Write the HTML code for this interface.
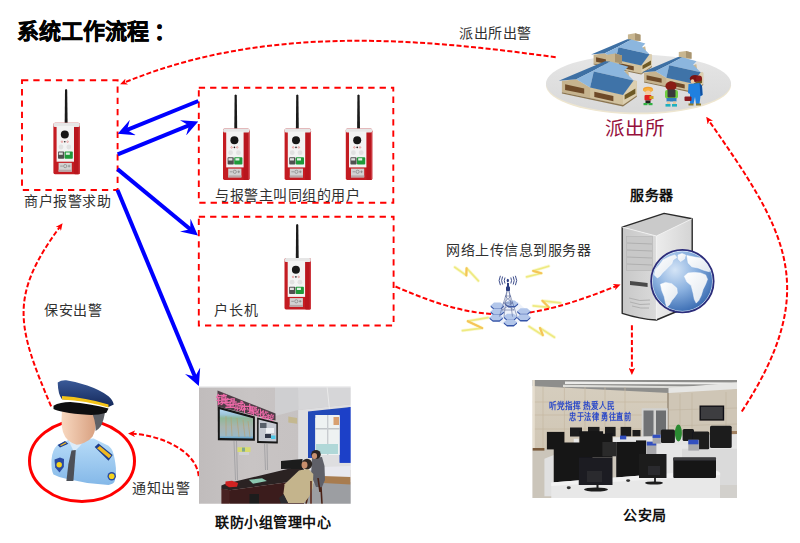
<!DOCTYPE html>
<html lang="zh-CN"><head><meta charset="utf-8">
<style>
html,body{margin:0;padding:0;background:#fff;width:800px;height:543px;overflow:hidden;}
body{position:relative;font-family:"Liberation Sans",sans-serif;}
.t{position:absolute;white-space:nowrap;line-height:1;color:#303030;font-size:14px;letter-spacing:0.5px;}
.b{font-weight:bold;color:#111;font-family:"Liberation Serif",serif;}
svg{position:absolute;left:0;top:0;}
</style></head><body>
<svg width="800" height="543" viewBox="0 0 800 543">
<defs>
 <g id="dev">
  <path d="M11.3,35 L11.6,1.6 Q12.7,-0.4 13.8,1.6 L14.2,35 Z" fill="#1a1a1a"/>
  <rect x="0" y="34.5" width="26.4" height="51.4" rx="1.6" fill="#c41c22"/>
  <rect x="20.6" y="36" width="5.8" height="49.9" rx="1.2" fill="#b8161e"/>
  <rect x="25.3" y="37" width="1" height="48.6" fill="#d04048"/>
<rect x="0.1" y="34.4" width="26.2" height="4.2" rx="1.5" fill="#e6e6e6"/>
  <rect x="3.2" y="37.6" width="17.4" height="35.8" fill="#f3f3f3"/>
  <circle cx="11.4" cy="46.2" r="4" fill="#161616"/>
  <circle cx="8.6" cy="53.4" r="0.8" fill="none" stroke="#e06060" stroke-width="0.5"/>
  <circle cx="11.4" cy="53.4" r="0.8" fill="#222"/>
  <circle cx="14.2" cy="53.4" r="0.8" fill="none" stroke="#e06060" stroke-width="0.5"/>
  <circle cx="7.6" cy="58.7" r="2.4" fill="#e2e2e2"/>
  <circle cx="15.4" cy="58.7" r="2.4" fill="#e2e2e2"/>
  <rect x="4.6" y="63.3" width="6.2" height="7.2" rx="0.8" fill="#505050"/>
  <rect x="11.2" y="63.3" width="8.2" height="7.2" rx="0.8" fill="#1f9a3a"/>
  <rect x="5.4" y="64.2" width="4" height="2.3" fill="#e0e0e0"/>
  <rect x="12.4" y="64.2" width="4" height="2.3" fill="#e0f0e4"/>
  <rect x="5.2" y="74.6" width="13.2" height="8.8" fill="#d2d2d2"/>
  <rect x="5.2" y="81.4" width="13.2" height="2" fill="#b8a8a8"/>
  <circle cx="11.8" cy="77.8" r="1.6" fill="none" stroke="#777" stroke-width="0.6"/>
  <path d="M6.8,77.8h2.6M14.4,77.8h2.6M15.7,76.5v2.6" stroke="#777" stroke-width="0.6"/>
 </g>
 <g id="house">
  <polygon points="605.9,55 615,53.5 622,55.5 622,63.5 605.9,63.5" fill="#c8b690"/>
  <polygon points="615,53.5 622,55.5 622,63.5 615,62" fill="#a89470"/>
  <polygon points="561.9,81 576.3,79.2 590.1,87.4 623,94.9 633.6,80.5 636.8,81 636.8,95.4 623,105 561.9,92.2" fill="#c6b38e"/>
  <polygon points="590.1,87.4 623,94.9 623,105 590.1,97.6" fill="#d2c29e"/>
  <polygon points="623,94.9 633.6,80.5 636.8,81 636.8,95.4 623,105" fill="#dccfb0"/>
  <polygon points="561.9,92.2 623,105 636.8,95.4 636.8,96.8 623,106.4 561.9,93.6" fill="#8c7650"/>
  <polygon points="565.1,84.2 584.2,88.5 584.2,93.8 565.1,90.1" fill="#6e4a28"/>
  <polygon points="594.3,91.7 613.4,95.9 613.4,101.2 594.3,97" fill="#6e4a28"/>
  <polygon points="624.6,94.9 635.4,88.5 635.4,93.8 624.6,99.6" fill="#6e5a26"/>
  <polygon points="620.9,73.6 628,70 629,76 622,79" fill="#c8b690"/>
  <polygon points="558.7,80.7 605,61.2 610.3,61.4 592.7,71 576.3,79.2" fill="#3e70a4"/>
  <polygon points="576.3,79.2 592.7,71 610.3,61.4 628.3,66.7 624,71 633.6,80.5 593.8,71.5 590.1,87.4" fill="#8cb6de"/>
  <polygon points="593.8,71.5 633.6,80.5 623,94.9 590.1,87.4" fill="#3f73a8"/>
 </g>

 <g id="hx"><polygon points="-6.6,0 -3.3,-2.8 3.3,-2.8 6.6,0 3.3,2.8 -3.3,2.8" fill="#b2c6ea"/><polygon points="-6.6,0 -3.3,2.8 3.3,2.8 6.6,0 6.6,1.5 3.3,4.3 -3.3,4.3 -6.6,1.5" fill="#3454a8"/></g>

 <marker id="stealth" viewBox="0 0 16.5 16.6" refX="7" refY="8.3" markerWidth="16.5" markerHeight="16.6" markerUnits="userSpaceOnUse" orient="auto">
  <path d="M0,0 L16.5,8.3 L0,16.6 L6.5,8.3 Z" fill="#0000ff"/>
 </marker>
 <marker id="rst" viewBox="0 0 7.2 6.6" refX="3.2" refY="3.3" markerWidth="7.2" markerHeight="6.6" markerUnits="userSpaceOnUse" orient="auto">
  <path d="M0,0 L7.2,3.3 L0,6.6 L2,3.3 Z" fill="#ff0000"/>
 </marker>
 <filter id="blurP" x="-5%" y="-5%" width="110%" height="110%"><feGaussianBlur stdDeviation="0.7"/></filter>
 <clipPath id="cp1"><rect x="199" y="386.3" width="151.7" height="117.5"/></clipPath>
 <clipPath id="cp2"><rect x="532.4" y="380" width="204.6" height="118"/></clipPath>
 <linearGradient id="p1wall" x1="0" x2="1" y1="0" y2="0"><stop offset="0" stop-color="#c0bcbc"/><stop offset="0.5" stop-color="#c8c4c4"/><stop offset="1" stop-color="#c6c2c2"/></linearGradient>
 <linearGradient id="tv1" x1="0" x2="0" y1="0" y2="1"><stop offset="0" stop-color="#b4d8f4"/><stop offset="0.18" stop-color="#9cc4d8"/><stop offset="0.3" stop-color="#90b898"/><stop offset="0.6" stop-color="#a8b4b0"/><stop offset="0.9" stop-color="#9cb8c4"/><stop offset="1" stop-color="#58a0d0"/></linearGradient>
 <linearGradient id="p2wall" x1="0" x2="0" y1="0" y2="1"><stop offset="0" stop-color="#d6cebf"/><stop offset="1" stop-color="#d0c6b4"/></linearGradient>
 <linearGradient id="gEll" x1="0" x2="0" y1="0" y2="1"><stop offset="0" stop-color="#e6e6e6"/><stop offset="1" stop-color="#d8d8d8"/></linearGradient>
 <linearGradient id="gSide" x1="0" x2="1" y1="0" y2="0"><stop offset="0" stop-color="#ececec"/><stop offset="1" stop-color="#d4d4d4"/></linearGradient>
 <linearGradient id="gFront" x1="0" x2="1" y1="0" y2="0"><stop offset="0" stop-color="#c8c8c8"/><stop offset="1" stop-color="#dadada"/></linearGradient>
 <radialGradient id="gGlobe" cx="0.38" cy="0.32" r="0.75"><stop offset="0" stop-color="#d4e4f6"/><stop offset="0.45" stop-color="#8cb2e0"/><stop offset="1" stop-color="#2e62ac"/></radialGradient>
 <linearGradient id="gLand" x1="0" x2="1" y1="0" y2="1"><stop offset="0" stop-color="#ffffff"/><stop offset="1" stop-color="#dfe6ee"/></linearGradient>
 <linearGradient id="gShirt" x1="0" x2="0" y1="0" y2="1"><stop offset="0" stop-color="#b8dcf8"/><stop offset="1" stop-color="#84b8e8"/></linearGradient>
 <linearGradient id="gFace" x1="0" x2="1" y1="0" y2="0"><stop offset="0" stop-color="#f8d8c0"/><stop offset="1" stop-color="#d8a080"/></linearGradient>
 <linearGradient id="gCap" x1="0" x2="0" y1="0" y2="1"><stop offset="0" stop-color="#3a5a98"/><stop offset="1" stop-color="#14285a"/></linearGradient>
</defs>

<!-- dashed boxes -->
<g fill="none" stroke="#ff0000" stroke-width="1.9" stroke-dasharray="6.3 5">
 <rect x="22" y="80.3" width="95.6" height="109.7"/>
 <rect x="198.8" y="87.7" width="194.5" height="115"/>
 <rect x="198.8" y="216.7" width="194.8" height="108.8"/>
</g>

<ellipse cx="638.5" cy="85.2" rx="92.5" ry="29" fill="#eee6d0"/>
<ellipse cx="638.5" cy="83.6" rx="92.5" ry="29" fill="url(#gEll)"/>
<use href="#house" transform="translate(591.1,54.5) scale(0.78) translate(-558.7,-80.7)"/>
<use href="#house" transform="translate(641.5,72.4) scale(0.79) translate(-558.7,-80.7)"/>
<use href="#house"/>
<!-- people -->
<g>
 <!-- kid1 -->
 <ellipse cx="648" cy="89.5" rx="5" ry="2.8" fill="#f0a030"/>
 <path d="M643,90 Q648,86 653.5,90 L652,91 L644,91 Z" fill="#f8b040"/>
 <ellipse cx="648" cy="93" rx="3" ry="2.5" fill="#f4c8a0"/>
 <rect x="644.5" y="95" width="7" height="5.5" rx="1" fill="#e02020"/>
 <rect x="649.5" y="96" width="4" height="3" fill="#d0a020"/>
 <rect x="645.5" y="100.5" width="5" height="3" fill="#202020"/>
 <rect x="643.5" y="103" width="4" height="2.2" fill="#30b040"/><rect x="648.5" y="103" width="4" height="2.2" fill="#30b040"/>
 <!-- kid2 -->
 <ellipse cx="671" cy="86" rx="5.6" ry="4.6" fill="#8a1c14"/>
 <rect x="665" y="90" width="13" height="8.5" rx="2" fill="#70d040"/>
 <rect x="667.5" y="89.5" width="8" height="8" rx="1" fill="#3a3a3a"/>
 <rect x="666.5" y="98" width="10" height="3.5" fill="#3080c0"/>
 <rect x="667" y="101.5" width="3" height="3" fill="#e8c8a0"/><rect x="673" y="101.5" width="3" height="3" fill="#e8c8a0"/>
 <rect x="665.5" y="104" width="5" height="2.6" fill="#20b0c0"/><rect x="672" y="104" width="5" height="2.6" fill="#20b0c0"/>
 <!-- adult -->
 <ellipse cx="695" cy="78.5" rx="5.2" ry="3.6" fill="#7a1414"/>
 <ellipse cx="699" cy="78.5" rx="3" ry="3" fill="#8a1a1a"/>
 <ellipse cx="692.5" cy="81.5" rx="1.8" ry="2.2" fill="#f0c8a0"/>
 <path d="M688.5,84 L699.5,83 L702,86 L702.5,95 L700.5,96 L699.5,104 L696,104 L695,97 L693.5,104 L690,104 L690,94 L688,93 Z" fill="#2080e0"/>
 <path d="M699.5,83 L702,86 L702.5,95 L700.5,96 Z" fill="#1050a0"/>
 <rect x="684.5" y="96.5" width="7" height="4.6" rx="1" fill="#8a1a20"/>
 <rect x="688.5" y="103.5" width="5" height="2" fill="#8a7a30"/><rect x="696" y="103.5" width="5" height="2" fill="#8a7a30"/>
</g>

<g>
 <polygon points="656.4,236 692.2,218.7 692.2,305 656.4,320" fill="url(#gSide)"/>
 <polygon points="622.2,227.1 664.1,213.4 692.2,218.7 656.4,236" fill="#cacaca"/>
 <path d="M622.2,227.1 L656.4,236 L656.4,320 Q640,319 622.2,313.3 Z" fill="url(#gFront)"/>
 <path d="M622.2,227.1 L664.1,213.4 L692.2,218.7 L692.2,305 L656.4,320 Q640,319 622.2,313.3 Z" fill="none" stroke="#2a2a2a" stroke-width="1.4" stroke-linejoin="round"/>
 <path d="M622.2,227.1 L656.4,236 L692.2,218.7 M656.4,236 L656.4,320" fill="none" stroke="#f4f4f4" stroke-width="0.8"/>
 <rect x="626.6" y="236.5" width="26" height="34" fill="#c8c8c8" stroke="#b4b4b4" stroke-width="0.6"/>
 <g stroke="#a8a8a8" stroke-width="0.8"><line x1="627" y1="243" x2="652" y2="244"/><line x1="627" y1="250" x2="652" y2="251"/><line x1="627" y1="257" x2="652" y2="258"/><line x1="627" y1="264" x2="652" y2="265"/></g>
 <path d="M630,281 L647.6,283 L647.6,287 Q640,286 630,285 Z" fill="#4a4a4a"/>
 <g fill="none" stroke="#b0b0b0" stroke-width="1"><path d="M629,298 Q640,302 650,300"/><path d="M630,302 Q640,306 650,304"/><path d="M632,306 Q641,309 649,308"/></g>
 <!-- globe -->
 <circle cx="682.4" cy="281.2" r="31.2" fill="url(#gGlobe)"/>
 <g fill="url(#gLand)" stroke="#ffffff" stroke-width="0.5" stroke-linejoin="round">
  <path d="M654.3,274.9 L655.5,269.3 L659.9,264.3 L663.0,259.9 L669.3,256.8 L674.9,254.9 L676.8,257.4 L673.0,259.9 L671.8,263.7 L668.7,266.8 L665.5,269.9 L662.4,273.0 L659.9,276.2 L657.4,278.0 Z"/>
  <path d="M678.0,255.0 L682.0,253.6 L685.6,255.0 L684.5,259.0 L680.5,261.5 L678.2,259.0 Z"/>
  <path d="M686.8,255.5 L693.1,256.8 L700.6,258.0 L706.9,261.8 L710.6,266.8 L709.4,271.8 L704.4,270.5 L698.1,268.0 L691.8,266.8 L688.1,263.0 Z"/>
  <path d="M684.3,276.2 L688.1,273.0 L694.3,272.4 L700.6,273.0 L705.6,274.9 L707.5,279.3 L705.6,284.3 L703.1,289.3 L701.2,295.6 L698.7,300.6 L696.2,303.1 L694.3,299.3 L693.1,293.1 L691.2,285.6 L686.8,281.8 Z"/>
  <path d="M660.5,284.3 L665.5,282.4 L671.8,283.7 L676.8,288.1 L677.4,293.1 L674.9,296.8 L671.8,300.6 L669.3,305.0 L666.8,306.9 L665.5,303.1 L664.3,296.8 L661.8,290.6 Z"/>
 </g>
 <circle cx="682.4" cy="281.2" r="30.2" fill="none" stroke="#e8f0fa" stroke-width="0.9" opacity="0.9"/>
 <circle cx="682.4" cy="281.2" r="31.3" fill="none" stroke="#2c2c7a" stroke-width="1.7"/>
</g>


<g fill="none" stroke-linejoin="round" stroke-linecap="round">
 <polyline points="454.8,267.2 466.3,275.4 466.6,268.2 478.4,280.8" stroke="#faf8cc" stroke-width="3.4" opacity="0.8"/>
 <polyline points="548.7,266.2 533.2,270.9 541.4,273.2 526.7,276.9" stroke="#faf8cc" stroke-width="3.4" opacity="0.8"/>
 <polyline points="488.0,317.6 467.8,321.2 482.2,328.1 462.5,330.6" stroke="#faf8cc" stroke-width="3.4" opacity="0.8"/>
 <polyline points="533.3,305.8 549.0,307.4 542.4,300.8 560.6,302.9" stroke="#faf8cc" stroke-width="3.4" opacity="0.8"/>
 <polyline points="529.1,326.5 542.8,335.2 540.0,328.0 554.4,337.3" stroke="#faf8cc" stroke-width="3.4" opacity="0.8"/>
 <polyline points="454.8,267.2 466.3,275.4 466.6,268.2 478.4,280.8" stroke="#eeea80" stroke-width="1.7"/>
 <polyline points="548.7,266.2 533.2,270.9 541.4,273.2 526.7,276.9" stroke="#eeea80" stroke-width="1.7"/>
 <polyline points="488.0,317.6 467.8,321.2 482.2,328.1 462.5,330.6" stroke="#eeea80" stroke-width="1.7"/>
 <polyline points="533.3,305.8 549.0,307.4 542.4,300.8 560.6,302.9" stroke="#eeea80" stroke-width="1.7"/>
 <polyline points="529.1,326.5 542.8,335.2 540.0,328.0 554.4,337.3" stroke="#eeea80" stroke-width="1.7"/>
 <polyline points="466.3,275.4 466.6,268.2" stroke="#f6c458" stroke-width="2.1"/>
 <polyline points="533.2,270.9 541.4,273.2" stroke="#f6c458" stroke-width="2.1"/>
 <polyline points="467.8,321.2 482.2,328.1" stroke="#f6c458" stroke-width="2.1"/>
 <polyline points="549.0,307.4 542.4,300.8" stroke="#f6c458" stroke-width="2.1"/>
 <polyline points="542.8,335.2 540.0,328.0" stroke="#f6c458" stroke-width="2.1"/>
</g>
<!-- red dashed curves -->
<g fill="none" stroke="#ff0000" stroke-width="2" stroke-dasharray="5 2.3">
 <path d="M555.7,57.3 C411.2,37.0 261.7,25.7 123.8,82.8" marker-end="url(#rst)"/>
 <path d="M395.5,286.5 C485.9,326.2 528.1,321.3 616.8,285.9" marker-end="url(#rst)"/>
 <path d="M741.8,411.5 C822.8,287.0 785.1,229.9 708.5,120.1" marker-end="url(#rst)"/>
 <path d="M198.7,476.2 C196.1,448.9 156.6,434.5 131.9,433.7" marker-end="url(#rst)"/>
 <path d="M51.1,406.3 C17.0,326.0 8.8,296.2 60.2,226.4" marker-end="url(#rst)"/>
 <path d="M631.9,325.3 L631.9,371" marker-end="url(#rst)"/>
</g>
<g>
 <polygon points="492,306 505,302 518,302 523,307 529,311 529,318 517,323 504,324.5 491,319 491,313" fill="#eef2fa"/>
 <use href="#hx" transform="translate(511.5,303.3)"/>
 <use href="#hx" transform="translate(497.3,305.4)"/>
 <use href="#hx" transform="translate(497.3,311.4)"/>
 <use href="#hx" transform="translate(523.8,311.0)"/>
 <use href="#hx" transform="translate(496.2,317.4)"/>
 <use href="#hx" transform="translate(510.4,316.6)"/>
 <use href="#hx" transform="translate(523.8,317.1)"/>
 <use href="#hx" transform="translate(510.4,322.2)"/>
 <!-- tower -->
 <g stroke="#5a6a98" stroke-width="0.6" fill="none">
  <path d="M507.4,290 L499.4,316.6 M508.6,290 L517,316.6 M507,291 L504,316.6 M509,291 L512.5,316.6"/>
  <path d="M505,296 L511,296 M503.5,303 L512.5,303 M502,310 L514,310 M505,296 L512.5,303 L502,310 M511,296 L503.5,303 L514,310"/>
 </g>
 <rect x="506" y="286.4" width="4" height="4.6" rx="0.8" fill="#2a3c80"/><rect x="507" y="283" width="2" height="4" fill="#2a3c80"/>
 <ellipse cx="507.8" cy="280.6" rx="1.1" ry="1.8" fill="#2a3c80"/>
 <g fill="none" stroke="#2a3c80" stroke-width="0.9">
  <path d="M505,277.5 Q503.5,280.5 505,283.5"/><path d="M502.6,276.5 Q500.6,280.5 502.6,284.5"/><path d="M500.4,275.8 Q497.8,280.5 500.4,285.2"/>
  <path d="M510.8,277.5 Q512.3,280.5 510.8,283.5"/><path d="M513.2,276.5 Q515.2,280.5 513.2,284.5"/><path d="M515.4,275.8 Q518,280.5 515.4,285.2"/>
 </g>
</g>


<!-- blue arrows -->
<g fill="none" stroke="#0000ff" stroke-width="4">
 <path d="M198.3,101.0 L126.5,130.2" marker-end="url(#stealth)"/>
 <path d="M117.7,154.4 L189.5,125.2" marker-end="url(#stealth)"/>
 <path d="M117.5,169.1 L190.6,229.5" marker-end="url(#stealth)"/>
 <path d="M117.5,189.9 L195.2,377.2" marker-end="url(#stealth)"/>
</g>

<!-- devices -->
<use href="#dev" x="53.4" y="88.3"/>
<use href="#dev" x="223" y="94"/>
<use href="#dev" x="284.6" y="94"/>
<use href="#dev" x="345.8" y="94"/>
<use href="#dev" x="284.5" y="223.5"/>

<!-- police ellipse -->
<ellipse cx="82" cy="461" rx="52.5" ry="40.5" fill="none" stroke="#ff0000" stroke-width="3"/>
<g>
 <!-- body -->
 <path d="M57.7,444.8 Q52,450 51.5,460 Q51,470 53.5,474.5 Q60,478 66.2,478.7 L87.3,483 L108.5,485 Q114,484 114.8,480.8 Q116.5,474 115.9,468.1 Q115,458 112.7,451.2 Q110,446 106.4,444.8 L93.7,438.5 L68.3,440 Z" fill="url(#gShirt)"/>
 <path d="M68.5,440.5 L74,452 L80,446 L84,440.5 Z" fill="#dcecfa"/>
 <path d="M71.5,450.6 L75.8,450 L73.4,481 L66.4,481 L68.4,464 Z" fill="#4c5058"/>
 <!-- epaulets -->
 <path d="M94.7,447 L98.5,443.6 L112.7,455 L108.5,460.7 Z" fill="#1c3c8c"/>
 <path d="M97,448.2 L99.8,446 L111.3,455.6 L109,458.2 Z" fill="#f0b820"/>
 <path d="M57.7,445 L65,441 L68.3,443.8 L60,447.6 Z" fill="#1c3c8c"/>
 <path d="M60,445.2 L65.5,442.2 L66.5,443.3 L61,446 Z" fill="#f0b820"/>
 <!-- badges -->
 <path d="M54.5,459.5 L60,457.5 L64,459 L63.8,467 L59.5,472.4 L55.2,467.5 Z" fill="#2a4aa0"/>
 <circle cx="59.2" cy="464.8" r="2.7" fill="#f6d41c"/>
 <circle cx="111.7" cy="476.2" r="4.2" fill="#2a4aa0"/>
 <circle cx="111.7" cy="476.2" r="2.8" fill="#f6d41c"/>
 <!-- face -->
 <path d="M61.9,411 L94.7,411 L95.8,425.8 Q95,432 92.6,436.4 Q89,441 84.2,442.7 Q80,444.8 76.7,444.8 Q72,443.5 68.3,440.6 Q64.5,437 63,432.1 Q61.5,427 61.5,421.6 Z" fill="url(#gFace)"/>
 <path d="M90.5,410 L105.3,410 Q104,420 101,426 Q98,430 95.6,431 Q96,420 90.5,410 Z" fill="#5e6066"/>
 <!-- cap -->
 <path d="M57.7,382.4 Q61,380 66.2,380.3 Q78,382 87.3,385.6 Q100,390 108.5,396.2 Q113,400 113.8,404.6 L108.5,407 Q86,399.5 61.9,399.3 Q58,394 57.7,382.4 Z" fill="url(#gCap)"/>
 <path d="M62,396 Q86,397.5 108.5,404.5 L108.5,407.6 Q86,400.5 62,399.4 Z" fill="#f4c418"/>
 <path d="M53.5,405.7 Q60,402 70.4,402 Q90,403.5 108.5,408.6 L106.4,412.7 Q97,415.5 87.3,414.8 Q74,414 64,412 Q56,410.5 53.5,408.9 Z" fill="#0e0e10"/>
</g>

<g clip-path="url(#cp1)"><g filter="url(#blurP)">
 <rect x="199" y="386" width="152" height="118" fill="#c4c0c0"/>
 <rect x="199" y="386" width="100" height="118" fill="url(#p1wall)"/>
 <polygon points="298,386 351,386 351,404.3 298.2,409.9" fill="#d6d6d8"/>
 <polygon points="275,386 298,386 298.2,409.9 275,416" fill="#cfcfd1"/>
 <polygon points="298.2,409.9 351,404.3 351,470 298.2,470" fill="#dedee0"/>
 <rect x="199" y="386" width="152" height="1.6" fill="#e8e8ea"/>
 <!-- LED sign -->
 <polygon points="217.5,390.4 275.5,413.6 275.5,420.6 217.5,406.4" fill="#4e3e46"/>
 <text x="221.6" y="404.0" font-size="11.4" font-weight="bold" fill="#ec6aa8" text-anchor="middle" font-family="Liberation Sans,sans-serif">镇</text>
 <text x="230.4" y="406.8" font-size="10.6" font-weight="bold" fill="#ec6aa8" text-anchor="middle" font-family="Liberation Sans,sans-serif">望</text>
 <text x="238.7" y="409.6" font-size="10.0" font-weight="bold" fill="#ec6aa8" text-anchor="middle" font-family="Liberation Sans,sans-serif">城</text>
 <text x="246.1" y="412.1" font-size="9.4" font-weight="bold" fill="#ec6aa8" text-anchor="middle" font-family="Liberation Sans,sans-serif">村</text>
 <text x="253.1" y="414.0" font-size="8.8" font-weight="bold" fill="#ec6aa8" text-anchor="middle" font-family="Liberation Sans,sans-serif">聚</text>
 <text x="259.7" y="415.9" font-size="8.2" font-weight="bold" fill="#ec6aa8" text-anchor="middle" font-family="Liberation Sans,sans-serif">化</text>
 <text x="265.4" y="417.5" font-size="7.6" font-weight="bold" fill="#ec6aa8" text-anchor="middle" font-family="Liberation Sans,sans-serif">监</text>
 <text x="270.6" y="419.5" font-size="7.0" font-weight="bold" fill="#ec6aa8" text-anchor="middle" font-family="Liberation Sans,sans-serif">控</text>
 <!-- TV1 -->
 <polygon points="217.7,406.5 254.9,416.5 254.9,440.8 217.9,440.2" fill="#141414"/>
 <polygon points="219.8,409.3 253,418.3 253,438.6 219.8,438.1" fill="url(#tv1)"/>
 <g stroke="#b8a070" stroke-width="0.8" opacity="0.8">
  <line x1="226" y1="416" x2="226" y2="436"/><line x1="231" y1="417" x2="232" y2="436"/><line x1="237" y1="418" x2="239" y2="437"/><line x1="243" y1="420" x2="245" y2="437"/><line x1="248" y1="421" x2="250" y2="437"/>
 </g>
 <!-- TV2 -->
 <polygon points="257.1,417.6 277.8,422.6 277.8,443.6 257.1,443" fill="#151515"/>
 <polygon points="258.6,419.6 276.4,424 276.4,441.6 258.6,441" fill="#c6cad2"/>
 <rect x="260" y="423" width="6.5" height="5" fill="#58606a"/>
 <rect x="266" y="428" width="8" height="5" fill="#eef0f4"/>
 <rect x="265" y="434" width="6" height="4" fill="#303848"/>
 <rect x="271" y="435.5" width="4.5" height="3.5" fill="#50c8e8"/>
 <!-- cables under TVs -->
 <path d="M234,441 L235.5,480 M236.5,441 L237.5,480 M264.5,443 L265.5,470 M267,443 L267.5,470" stroke="#9a9a9e" stroke-width="0.8"/>
 <rect x="237.5" y="447.2" width="13" height="4.8" fill="#d8dc70"/>
 <rect x="242" y="447.6" width="3" height="4" fill="#80a890"/>
 <rect x="239" y="452" width="10" height="3" fill="#d0d0d4"/>
 <!-- AC -->
 <polygon points="288.3,416.5 297.1,418 297.1,423.7 288.3,422.6" fill="#c4b890"/>
 <!-- lamp -->
 <path d="M327,386 L330,414" stroke="#eaeaea" stroke-width="1"/>
 <!-- curtains / window -->
 <polygon points="308,411.5 351,407 351,462.8 339.7,462.8 339.7,416 315.3,418 315.3,458 308,458" fill="#2448b8"/>
 <polygon points="339.7,410 351,407 351,462.8 339.7,462.8" fill="#1c40c8"/>
 <rect x="315.3" y="415" width="24.4" height="40" fill="#eef2f2"/>
 <rect x="315.3" y="428" width="24.4" height="1.5" fill="#c0c4c8"/>
 <rect x="327" y="415" width="1.4" height="40" fill="#c8ccd0"/>
 <rect x="333.5" y="417" width="5.5" height="8" fill="#d8a070"/>
 <rect x="316" y="444" width="22" height="10" fill="#b0d8d8"/>
 <!-- floor -->
 <polygon points="300,484 351,482 351,504 300,504" fill="#9c9ea2"/>
 <!-- bed -->
 <polygon points="324,467 350.5,466 350.5,478.5 324,478" fill="#e8e8ee"/>
 <polygon points="323,476 350.5,477 350.5,484.5 323,483" fill="#a87c50"/>
 <!-- desk -->
 <polygon points="221.4,485.5 225.5,483.7 300,466 304,469 304,480 229.7,490.3 221.4,488.8" fill="#2a2224"/>
 <polygon points="221.4,488.8 229.7,490.3 304,480 304,504 229.7,504" fill="#3b1c1a"/>
 <polygon points="221.4,488.8 229.7,490.3 229.7,504 221.4,504" fill="#4a2220"/>
 <rect x="249.5" y="494" width="9.5" height="10" fill="#1a1a1c"/>
 <polygon points="281,461 302.5,459 302.5,468.7 281,469" fill="#1c1c1e"/>
 <!-- phone, paper -->
 <polygon points="225.5,481.5 232,480.7 238.1,483 237,486.8 229,487.3 225.5,485" fill="#d02020"/>
 <polygon points="248.9,479.8 262,478.3 266.9,481 253,483.7" fill="#8cc8b0"/>
 <!-- person 2 (gray) -->
 <polygon points="312,458 322,457 324.5,466 325,480 322,487 316,487 311,475" fill="#5e6068"/>
 <ellipse cx="316" cy="454.5" rx="4.8" ry="4.6" fill="#2a2420"/>
 <ellipse cx="314.5" cy="456" rx="2.6" ry="3" fill="#c89070"/>
 <!-- chair -->
 <path d="M321,487 L322,504 M312,478 L306,504 M318,478 L320,492" stroke="#4a2418" stroke-width="1.6"/>
 <!-- person 1 (beige) -->
 <polygon points="284.6,484.3 299,470.5 308,468.7 313.3,474 312.8,488 309,497 304,503 288,503 283.4,494" fill="#c4b48c"/>
 <polygon points="283.4,494 288,503 281,504 279,498" fill="#2a2a2e"/>
 <ellipse cx="307" cy="464" rx="5.2" ry="5.3" fill="#2e2622"/>
 <ellipse cx="304.5" cy="465" rx="3" ry="3.4" fill="#c88e6c"/>
 <path d="M311,481 L311,504" stroke="#5a2a1c" stroke-width="1.6"/>
</g></g>

<g clip-path="url(#cp2)"><g filter="url(#blurP)">
 <rect x="532" y="379" width="206" height="120" fill="#d3cab9"/>
 <rect x="532" y="379" width="137" height="72" fill="url(#p2wall)"/>
 <!-- ceiling -->
 <polygon points="532,379 738,379 738,391 669,393 532,386" fill="#8e8e8c"/>
 <polygon points="565,381.5 738,382.5 738,384.5 565,384" fill="#ececea"/>
 <polygon points="563,384.8 700,386.5 700,388.2 563,387" fill="#dededa"/>
 <polygon points="668.5,388 737.3,382.5 737.3,389.5 668.5,395" fill="#e6e6e4"/>
 <!-- tile lines -->
 <g stroke="#c6b8a2" stroke-width="0.7">
  <line x1="543" y1="387" x2="543" y2="449"/><line x1="564.4" y1="387" x2="564.4" y2="449"/><line x1="585" y1="387" x2="585" y2="449"/><line x1="605" y1="387" x2="605" y2="449"/><line x1="625" y1="387" x2="625" y2="449"/>
  <line x1="532" y1="402" x2="669" y2="402"/><line x1="532" y1="415" x2="669" y2="415"/><line x1="532" y1="429" x2="669" y2="429"/>
 </g>
 <rect x="532.4" y="380" width="2.4" height="118" fill="#e6decf"/>
 <!-- right glass wall -->
 <polygon points="669,393 737,389 737,449 669,449" fill="#cfc6b6"/>
 <g stroke="#c0b4a0" stroke-width="0.6"><line x1="680" y1="394" x2="680" y2="449"/><line x1="692" y1="393" x2="692" y2="449"/><line x1="726" y1="392" x2="726" y2="449"/><line x1="669" y1="410" x2="737" y2="408"/><line x1="669" y1="426" x2="737" y2="424"/></g>
 <rect x="667" y="393" width="2" height="56" fill="#a89c8a"/>
 <rect x="731" y="431" width="6" height="17" fill="#a08060"/>
 <!-- doors -->
 <rect x="641.7" y="408.3" width="26" height="30" fill="#d2d2d0"/>
 <rect x="643.5" y="410.5" width="10" height="26" fill="#707274"/>
 <rect x="656" y="410.5" width="10" height="26" fill="#6c6e70"/>
 <!-- TV -->
 <rect x="699.5" y="405.5" width="24.7" height="15.1" fill="#101012"/>
 <rect x="700.8" y="406.8" width="22" height="12.5" fill="#3c3c40"/>
 <!-- wall text -->
 <text x="549.3" y="409" font-size="8.6" font-weight="bold" fill="#2a48c8" font-family="Liberation Sans,sans-serif" textLength="66" lengthAdjust="spacingAndGlyphs">听党指挥 热爱人民</text>
 <text x="569.2" y="420.2" font-size="8.6" font-weight="bold" fill="#2a48c8" font-family="Liberation Sans,sans-serif" textLength="62" lengthAdjust="spacingAndGlyphs">忠于法律 勇往直前</text>
 <!-- floor -->
 <rect x="532" y="449" width="206" height="50" fill="#cbc5ba"/>
 <rect x="532.4" y="448" width="12" height="2.6" fill="#7a5a3a"/>
 <!-- white desks (back rows) -->
 <polygon points="613,437.5 738,434 738,449 613,444" fill="#e4e4e4"/>
 <polygon points="640,444 738,446 738,486 640,486" fill="#e6e6e6"/>
 <polygon points="682,448.7 737,448.7 737,486 682,486" fill="#dadada"/>
 <rect x="573.75" y="438.75" width="5" height="4.4" fill="#e8e8e8"/>
 <!-- back row black -->
 <g fill="#1a1a1c">
  <rect x="570" y="427.5" width="12" height="9"/>
  <rect x="588" y="426.9" width="11.5" height="7"/>
  <rect x="605" y="426.9" width="10.6" height="9.4"/>
  <rect x="620.6" y="426.9" width="10.6" height="9.4"/>
  <rect x="632.5" y="430" width="8" height="6.3"/>
  <rect x="660.9" y="429.6" width="14" height="13.4" rx="1.5"/>
  <rect x="682.6" y="428.9" width="11.4" height="12" rx="1.5"/>
  <rect x="692.8" y="431.5" width="16.5" height="17.8" rx="1.5"/>
  <rect x="710" y="425.7" width="21.7" height="22.3" rx="1.5"/>
 </g>
 <g fill="#161618">
  <rect x="546.9" y="431.9" width="17.5" height="17.5"/>
  <rect x="579.4" y="431.25" width="23.7" height="12.5"/>
  <rect x="591.9" y="433.75" width="20.6" height="23.75"/>
  <rect x="602.5" y="441.9" width="13.75" height="14.4" fill="#2a2a2c"/>
  <rect x="616.25" y="441.9" width="23.75" height="36"/>
  <rect x="636" y="440.4" width="10.2" height="36"/>
 </g>
 <rect x="613.1" y="437.5" width="7" height="4.4" fill="#e8e8e8"/>
 <!-- phones -->
 <g><rect x="646.8" y="441.7" width="9.6" height="13.3" fill="#a8a8ac"/><rect x="646.8" y="441.7" width="9.4" height="3.8" fill="#3050c0"/>
 <rect x="652.6" y="434.7" width="8.3" height="8.9" fill="#a8a8ac"/><rect x="652.6" y="434.7" width="8" height="3.2" fill="#3050c0"/>
 <rect x="688.3" y="439.8" width="10.8" height="10.8" fill="#a8a8ac"/><rect x="688.3" y="439.8" width="10.2" height="4.5" fill="#3050c0"/>
 <rect x="620" y="435.6" width="6.25" height="3.8" fill="#3050c0"/></g>
 <!-- plant -->
 <ellipse cx="678.4" cy="433" rx="3.5" ry="8.5" fill="#2c8a30"/>
 <!-- left white desk -->
 <polygon points="544.4,458.75 553.75,455 553.75,496.3 544.4,496.3" fill="#e0e0e0"/>
 <!-- big front-left monitor -->
 <rect x="553.75" y="442.5" width="38.75" height="42" fill="#141416"/>
 <!-- front desk -->
 <path d="M551.25,482.5 L712,470 Q722,471 720,478 L720,498 L551.25,498 Z" fill="#e8e8e8"/>
 <path d="M551.25,482.5 L712,470 Q722,471 720,475 L551.25,486 Z" fill="#f2f2f2"/>
 <rect x="720" y="485" width="17" height="13" fill="#d2d0cc"/>
 <!-- front monitors -->
 <rect x="578.75" y="457.5" width="33.75" height="27.5" fill="#1e1e20"/>
 <rect x="587" y="471" width="15" height="11" fill="#2c2c2e"/>
 <path d="M597.5,484 L597.5,489" stroke="#1a1a1c" stroke-width="2"/>
 <ellipse cx="596" cy="489.5" rx="12" ry="2" fill="#1a1a1c"/>
 <rect x="639" y="454" width="27.5" height="24" fill="#1c1c1e"/>
 <rect x="648" y="466" width="12" height="9" fill="#2c2c2e"/>
 <path d="M655,478 L655,482" stroke="#1a1a1c" stroke-width="1.8"/>
 <ellipse cx="654" cy="483" rx="9" ry="1.6" fill="#1a1a1c"/>
 <!-- printer -->
 <rect x="673.3" y="457.5" width="42.7" height="20.6" rx="1" fill="#161618"/>
 <rect x="673.3" y="457.5" width="42.7" height="3" fill="#3a3a3c"/>
 <!-- mice -->
 <ellipse cx="568.75" cy="487.75" rx="2" ry="1.4" fill="#333"/><ellipse cx="628.1" cy="480.6" rx="2" ry="1.4" fill="#333"/>
</g></g>

</svg>

<div class="t b" style="left:17px;top:20.5px;font-size:22px;font-family:'Liberation Sans',sans-serif;font-weight:900;letter-spacing:0;-webkit-text-stroke:0.5px #000">系统工作流程<span style="margin-left:4.5px">：</span></div>
<div class="t" style="left:24px;top:194px;">商户报警求助</div>
<div class="t" style="left:215px;top:188px;">与报警主叫同组的用户</div>
<div class="t" style="left:214px;top:303px;letter-spacing:0.8px;">户长机</div>
<div class="t" style="left:459px;top:25.5px;">派出所出警</div>
<div class="t" style="left:605px;top:119px;font-size:19.5px;letter-spacing:0;color:#96103c;font-family:'Liberation Serif',serif;">派出所</div>
<div class="t b" style="left:630px;top:189px;">服务器</div>
<div class="t" style="left:446px;top:242.5px;">网络上传信息到服务器</div>
<div class="t" style="left:44px;top:303px;">保安出警</div>
<div class="t" style="left:132px;top:480.5px;">通知出警</div>
<div class="t b" style="left:215px;top:515.5px;">联防小组管理中心</div>
<div class="t b" style="left:623px;top:508.5px;">公安局</div>
</body></html>
